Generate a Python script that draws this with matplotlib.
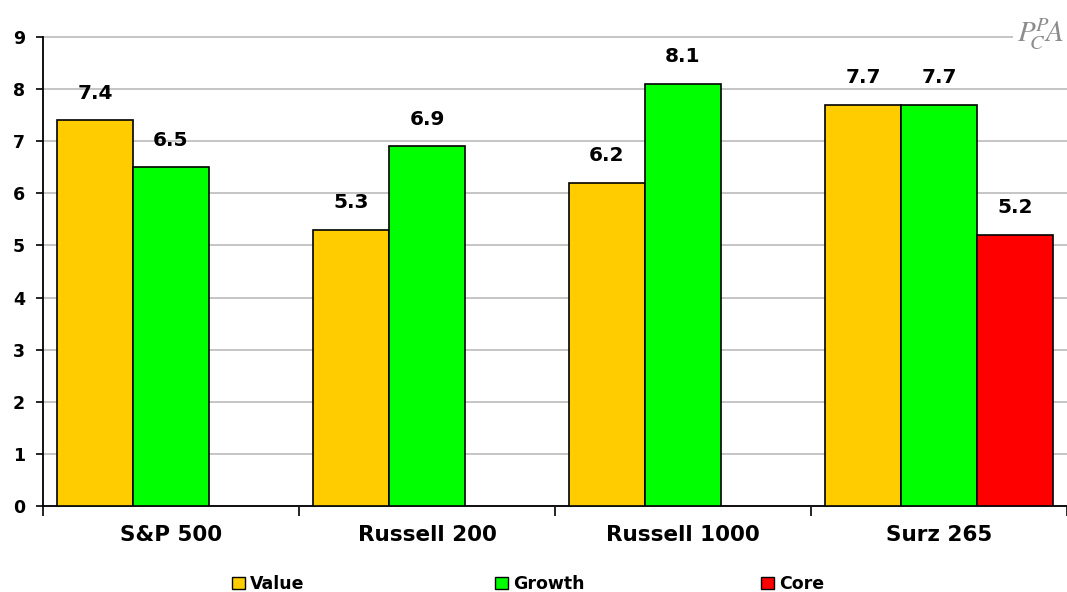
import matplotlib.pyplot as plt
import numpy as np
from matplotlib.patches import Patch, Rectangle

categories = ["S&P 500", "Russell 200", "Russell 1000", "Surz 265"]
value = [7.4, 5.3, 6.2, 7.7]
growth = [6.5, 6.9, 8.1, 7.7]
core = [np.nan, np.nan, np.nan, 5.2]

plt.rcParams['font.family'] = ['DejaVu Sans']
plt.rcParams['mathtext.fontset'] = 'stix'

W, H = 1067, 592
fig = plt.figure(figsize=(W / 100, H / 100), dpi=100)
ax = fig.add_axes([43 / W, 1 - 506 / H, 1 - 43 / W, (506 - 37) / H])

x = np.arange(len(categories))
w = 0.297
series = [("Value", value, "#FFCC00"), ("Growth", growth, "#00FF00"), ("Core", core, "#FF0000")]
for i, (name, vals, color) in enumerate(series):
    off = (i - 1) * w
    for xi, v in zip(x, vals):
        if np.isnan(v):
            continue
        ax.bar(xi + off, v, width=w, color=color, edgecolor="black", linewidth=1.2, zorder=3)
        ax.text(xi + off, v + 0.52, f"{v:.1f}", ha="center", va="center",
                fontsize=14.5, fontweight="bold", zorder=4)

ax.set_xlim(-0.5, 3.5)
ax.set_ylim(0, 9)
ax.set_yticks(range(10))
ax.tick_params(axis="y", length=5, width=1.2, labelsize=12.5, pad=8)
for lab in ax.get_yticklabels():
    lab.set_fontweight("bold")

# category boundaries as ticks, labels as minor ticks
ax.set_xticks(np.arange(-0.5, 4.0, 1.0))
ax.set_xticklabels([])
ax.tick_params(axis="x", which="major", length=7, width=1.2, direction="out")
ax.set_xticks(x, minor=True)
ax.set_xticklabels(categories, minor=True, fontsize=15.5, fontweight="bold")
ax.tick_params(axis="x", which="minor", length=0, pad=14)

ax.grid(axis="y", color="#C0C0C0", linewidth=1.3, zorder=0)
for gl in ax.get_ygridlines():
    gl.set_clip_on(False)
ax.spines["top"].set_visible(False)
ax.spines["right"].set_visible(False)
ax.spines["left"].set_linewidth(1.3)
ax.spines["bottom"].set_linewidth(1.3)

# legend: one entry per series at its own spot
leg_x = [232, 495, 761]
for (name, _, color), lx in zip(series, leg_x):
    fig.legend(handles=[Patch(facecolor=color, edgecolor="black", label=name)],
               loc="center left", bbox_to_anchor=(lx / W, 1 - 584 / H),
               frameon=False, borderpad=0, borderaxespad=0,
               handlelength=0.75, handleheight=0.75, handletextpad=0.3,
               prop={"weight": "bold", "size": 12.5})

# logo (covers end of the top gridline)
fig.patches.append(Rectangle((1013 / W, 1 - 62 / H), 54 / W, 50 / H, transform=fig.transFigure,
                             facecolor="white", edgecolor="none", zorder=5))
fig.text(1064 / W, 1 - 34 / H, r"$\mathit{P}^{\!P}_{\!\!C}\!\mathit{A}$", color="#8C8C8C",
         fontsize=21, ha="right", va="center", zorder=6)

fig.savefig("out.png", dpi=100)
